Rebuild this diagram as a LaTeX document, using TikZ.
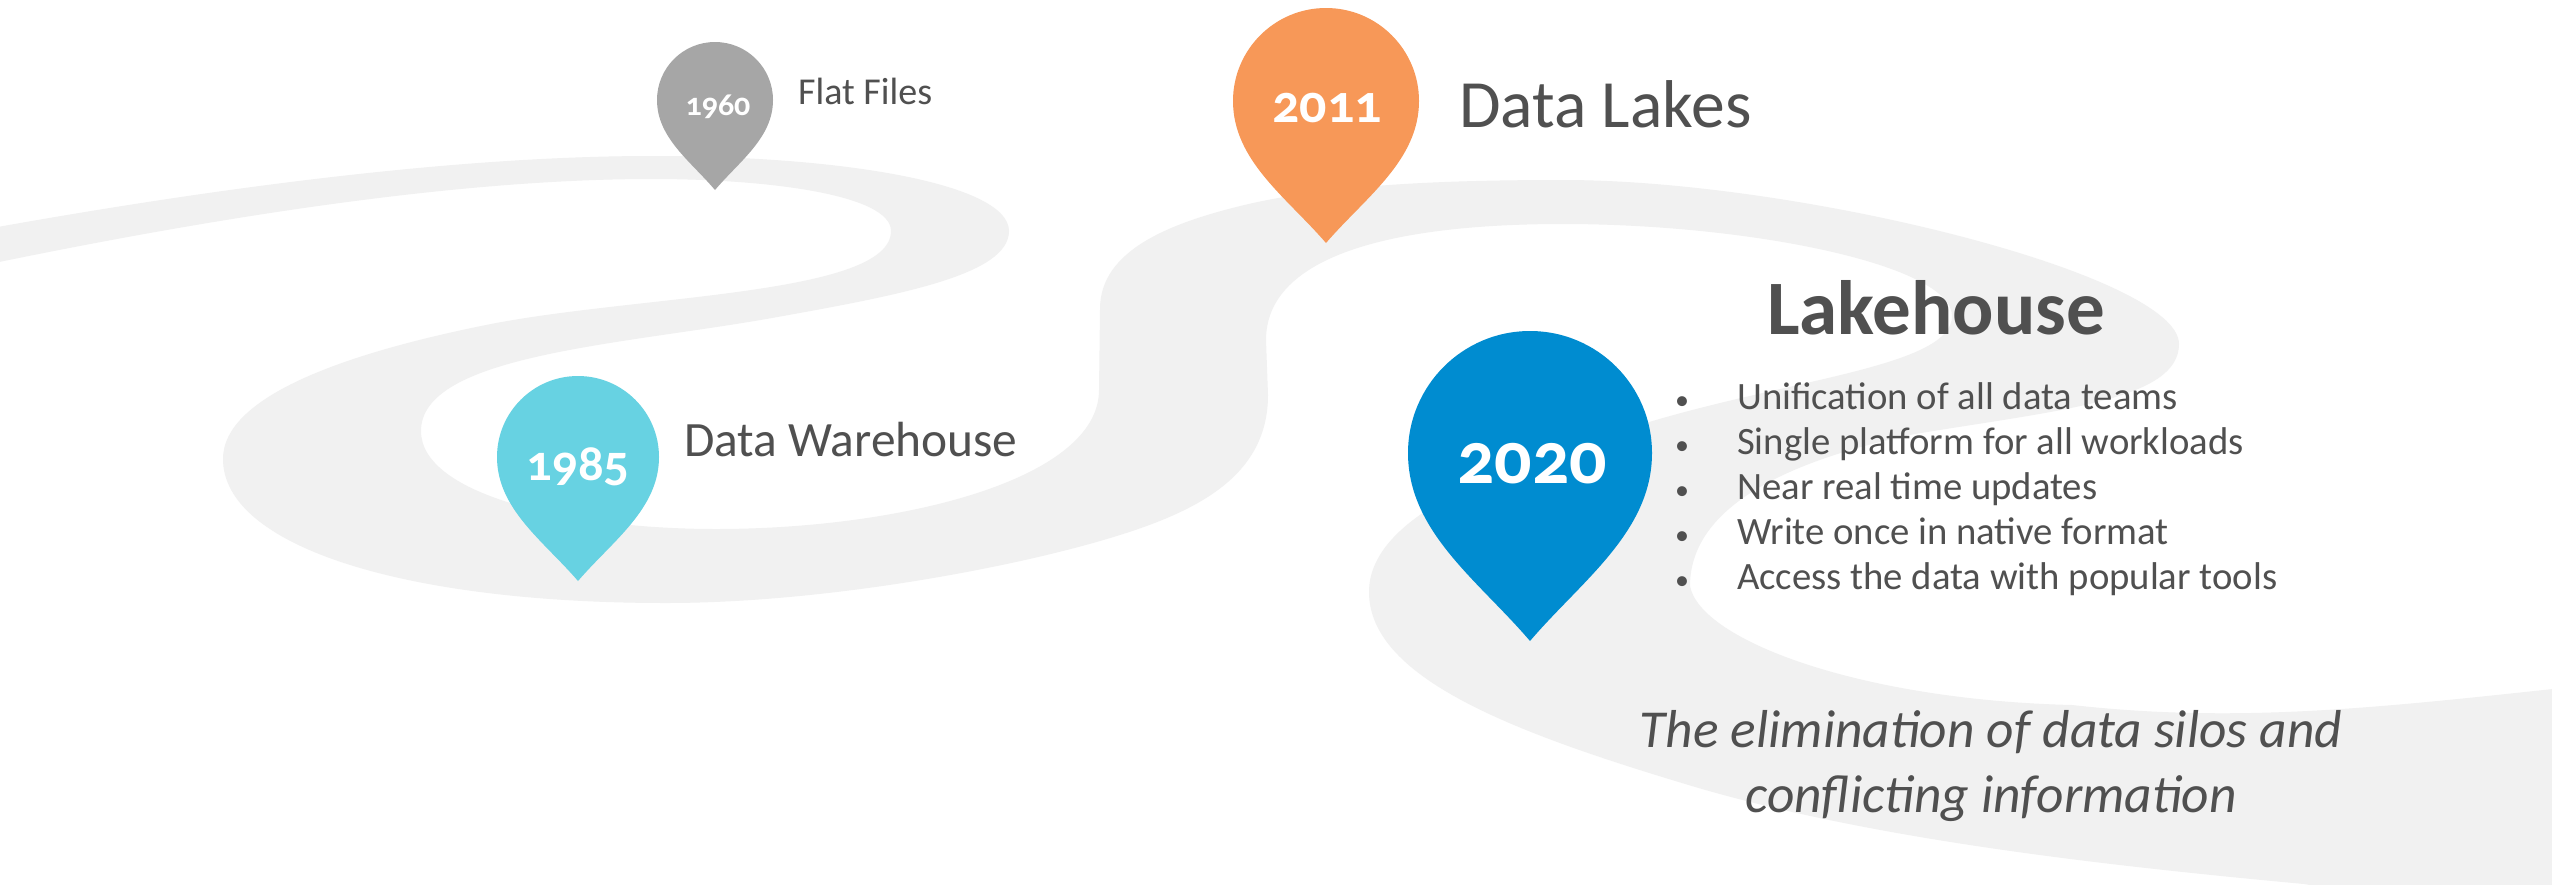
\documentclass[tikz,border=0pt]{standalone}
\usepackage{fontspec}
\setmainfont[Numbers=OldStyle]{Carlito}
\definecolor{road}{HTML}{F1F1F1}
\definecolor{ink}{HTML}{505050}
\definecolor{pinGray}{HTML}{A6A6A6}
\definecolor{pinCyan}{HTML}{67D2E2}
\definecolor{pinOrange}{HTML}{F79858}
\definecolor{pinBlue}{HTML}{008CD0}
\newcommand{\pinshape}[5]{% cx, cy, r, tip y, colour
  \fill[#5] (#1,#4) .. controls ({#1-0.42*#3},{#2+0.68*(#4-#2)}) and ({#1-#3},{#2+0.42*(#4-#2)}) .. ({#1-#3},#2)
    .. controls ({#1-#3},{#2-0.552*#3}) and ({#1-0.552*#3},{#2-#3}) .. (#1,{#2-#3})
    .. controls ({#1+0.552*#3},{#2-#3}) and ({#1+#3},{#2-0.552*#3}) .. ({#1+#3},#2)
    .. controls ({#1+#3},{#2+0.42*(#4-#2)}) and ({#1+0.42*#3},{#2+0.68*(#4-#2)}) .. (#1,#4) -- cycle;}
\tikzset{
  x=1pt,y=-1pt,
  lbl/.style={anchor=base west,inner sep=0pt,text=ink},
  yearlbl/.style={anchor=base,inner sep=0pt,text=white},
  item/.style={lbl,font=\fontsize{38.7}{44}\selectfont},
  dot/.style={anchor=base,inner sep=0pt,text=ink,font=\fontsize{28}{32}\selectfont},
  slogan/.style={anchor=base,inner sep=0pt,text=ink,font=\itshape\fontsize{53.4}{64}\selectfont}
}
\begin{document}
\begin{tikzpicture}
\useasboundingbox (0,0) rectangle (2552,884);
\fill[white] (0,0) rectangle (2552,884);
\begin{scope}
\clip (0,0) rectangle (2552,884);
\fill[road] (-30,232)
  .. controls (200,190) and (450,156) .. (652,156)
  .. controls (850,156) and (1009,185) .. (1009,231)
  .. controls (1009,275) and (900,295) .. (772,318)
  .. controls (620,345) and (421,355) .. (421,431)
  .. controls (421,495) and (570,529) .. (716,529)
  .. controls (900,529) and (1099,480) .. (1099,390)
  -- (1100,309)
  .. controls (1100,250) and (1170,222) .. (1253,203)
  .. controls (1340,184) and (1450,180) .. (1563,180)
  .. controls (1800,180) and (2179,275) .. (2179,344)
  .. controls (2179,400) and (2060,410) .. (1915,434)
  .. controls (1780,462) and (1690,510) .. (1690,586)
  .. controls (1700,640) and (1860,700) .. (2072,705)
  .. controls (2250,725) and (2400,705) .. (2600,684)
  -- (2600,930) -- (2400,900) -- (2304,884)
  .. controls (2100,865) and (1880,840) .. (1702,789)
  .. controls (1520,735) and (1369,680) .. (1369,592)
  .. controls (1369,510) and (1520,460) .. (1656,420)
  .. controls (1800,378) and (1952,365) .. (1952,316)
  .. controls (1952,265) and (1750,224) .. (1563,224)
  .. controls (1380,224) and (1266,260) .. (1266,340)
  -- (1268,395)
  .. controls (1268,480) and (1190,515) .. (1100,541)
  .. controls (1000,570) and (820,603) .. (666,603)
  .. controls (400,603) and (223,545) .. (223,459)
  .. controls (223,395) and (350,352) .. (491,324)
  .. controls (640,295) and (891,295) .. (891,231)
  .. controls (891,195) and (770,179) .. (652,179)
  .. controls (450,179) and (200,220) .. (-30,268)
  -- cycle;
\end{scope}

\pinshape{715}{100}{58}{190}{pinGray}
\pinshape{578}{457}{81}{581}{pinCyan}
\pinshape{1326}{101}{93}{243}{pinOrange}
\pinshape{1530}{453}{122}{641}{pinBlue}

\node[yearlbl,font=\bfseries\fontsize{32}{36}\selectfont] (y1960) at (718,115) {1960};
\node[yearlbl,font=\bfseries\fontsize{50.6}{60}\selectfont] (y1985) at (578,480) {1985};
\node[yearlbl,font=\bfseries\fontsize{54}{64}\selectfont] (y2011) at (1327,122) {2011};
\node[yearlbl,font=\bfseries\fontsize{74}{88}\selectfont] (y2020) at (1532,483) {2020};

\node[lbl,font=\fontsize{38}{44}\selectfont] (flat) at (798,104) {Flat Files};
\node[lbl,font=\fontsize{49.4}{58}\selectfont] (dw) at (684,456) {Data Warehouse};
\node[lbl,font=\fontsize{67.6}{80}\selectfont] (lakes) at (1459,127) {Data Lakes};
\node[lbl,font=\bfseries\fontsize{77}{92}\selectfont] (lh) at (1767,334) {Lakehouse};

\node[dot] (d1) at (1682,409) {•};
\node[dot] (d2) at (1682,454) {•};
\node[dot] (d3) at (1682,499) {•};
\node[dot] (d4) at (1682,544) {•};
\node[dot] (d5) at (1682,589) {•};
\node[item] (i1) at (1737,409) {Unification of all data teams};
\node[item] (i2) at (1737,454) {Single platform for all workloads};
\node[item] (i3) at (1737,499) {Near real time updates};
\node[item] (i4) at (1737,544) {Write once in native format};
\node[item] (i5) at (1737,589) {Access the data with popular tools};

\node[slogan] (s1) at (1991,747) {The elimination of data silos and};
\node[slogan] (s2) at (1991,812) {conflicting information};
\end{tikzpicture}
\end{document}
